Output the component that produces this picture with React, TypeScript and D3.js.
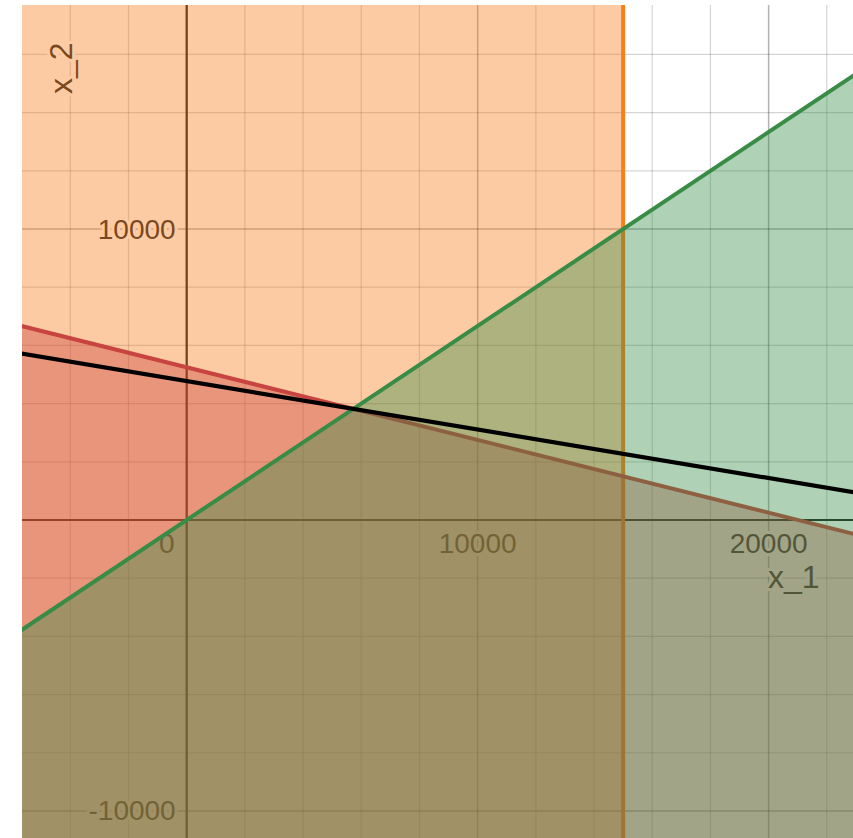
import React from "react";
import * as d3 from "d3";

// Plot window in data units (x_1 horizontal, x_2 vertical)
const xDomain: [number, number] = [-5660, 22900];
const yDomain: [number, number] = [-10930, 17700];

// Gridline steps
const minorStep = 2000;
const majorStep = 10000;

// Tick labels
const xTickValues = [10000, 20000];
const yTickValues = [10000, -10000];
const xTickLabels = ["10000", "20000"];
const yTickLabels = ["10000", "-10000"];

// Constraints: a·x_1 + b·x_2 <= c  (b = 0 -> vertical boundary)
const constraintNames = ["capacity", "budget", "ratio"];
const constraintA = [1, 1, -2];
const constraintB = [0, 4, 3];
const constraintC = [15000, 21000, 0];
const constraintColors = ["#fa7e19", "#c74440", "#388c46"];

// Objective level line through the optimum: x_1 + 6·x_2 = k
const objectiveA = 1;
const objectiveB = 6;
const objectiveK = 28640;

const W = 853;
const H = 838;
const plot = { left: 22, top: 5, right: 853, bottom: 838 };

export default function App() {
  const x = d3.scaleLinear().domain(xDomain).range([plot.left, plot.right]);
  const y = d3.scaleLinear().domain(yDomain).range([plot.bottom, plot.top]);

  const minorX = d3.range(Math.ceil(xDomain[0] / minorStep) * minorStep, xDomain[1], minorStep);
  const minorY = d3.range(Math.ceil(yDomain[0] / minorStep) * minorStep, yDomain[1], minorStep);

  const x0 = x(0);
  const y0 = y(0);

  const lineGen = d3
    .line<[number, number]>()
    .x((d) => x(d[0]))
    .y((d) => y(d[1]));
  const areaGen = d3
    .area<[number, number]>()
    .x((d) => x(d[0]))
    .y0(() => y(yDomain[0]))
    .y1((d) => y(d[1]));

  const pad = 2000;
  const xs: number[] = [xDomain[0] - pad, xDomain[1] + pad];

  const labelStyle: React.CSSProperties = {
    fontFamily: "'Liberation Sans', Arial, sans-serif",
    fontSize: 28,
    fill: "#262626",
    stroke: "#ffffff",
    strokeWidth: 6,
    strokeLinejoin: "round",
    paintOrder: "stroke",
  };

  const constraintLayers = constraintNames.map((name, i) => {
    const a = constraintA[i];
    const b = constraintB[i];
    const c = constraintC[i];
    const color = constraintColors[i];
    if (b === 0) {
      const xv = c / a;
      return (
        <g key={name}>
          <rect
            x={x(xDomain[0] - pad)}
            y={y(yDomain[1] + pad)}
            width={x(xv) - x(xDomain[0] - pad)}
            height={y(yDomain[0] - pad) - y(yDomain[1] + pad)}
            fill={color}
            fillOpacity={0.4}
          />
          <line
            x1={x(xv)}
            x2={x(xv)}
            y1={y(yDomain[1] + pad)}
            y2={y(yDomain[0] - pad)}
            stroke={color}
            strokeWidth={4}
          />
        </g>
      );
    }
    const pts: [number, number][] = xs.map((xv) => [xv, (c - a * xv) / b]);
    return (
      <g key={name}>
        <path d={areaGen(pts) ?? ""} fill={color} fillOpacity={0.4} />
        <path d={lineGen(pts) ?? ""} fill="none" stroke={color} strokeWidth={4} />
      </g>
    );
  });

  const objPts: [number, number][] = xs.map((xv) => [xv, (objectiveK - objectiveA * xv) / objectiveB]);

  return (
    <svg
      width={W}
      height={H}
      style={{ position: "absolute", left: 0, top: 0, background: "#ffffff" }}
    >
      <defs>
        <clipPath id="plot-clip">
          <rect x={plot.left} y={plot.top} width={plot.right - plot.left} height={plot.bottom - plot.top} />
        </clipPath>
      </defs>
      <g clipPath="url(#plot-clip)">
        <rect x={plot.left} y={plot.top} width={plot.right - plot.left} height={plot.bottom - plot.top} fill="#ffffff" />
        {/* grid */}
        {minorX.map((v) => (
          <line
            key={"gx" + v}
            x1={x(v)}
            x2={x(v)}
            y1={plot.top}
            y2={plot.bottom}
            stroke="#000"
            strokeOpacity={v % majorStep === 0 ? 0.3 : 0.17}
            strokeWidth={v % majorStep === 0 ? 1.5 : 1.2}
          />
        ))}
        {minorY.map((v) => (
          <line
            key={"gy" + v}
            y1={y(v)}
            y2={y(v)}
            x1={plot.left}
            x2={plot.right}
            stroke="#000"
            strokeOpacity={v % majorStep === 0 ? 0.3 : 0.17}
            strokeWidth={v % majorStep === 0 ? 1.5 : 1.2}
          />
        ))}
        {/* axes */}
        <line x1={x0} x2={x0} y1={plot.top} y2={plot.bottom} stroke="#1c1c1c" strokeWidth={2.2} />
        <line y1={y0} y2={y0} x1={plot.left} x2={plot.right} stroke="#1c1c1c" strokeWidth={2.2} />
        {/* tick labels */}
        <text x={x0 - 12} y={y0 + 33} textAnchor="end" style={labelStyle}>
          0
        </text>
        {xTickValues.map((v, i) => (
          <text key={"xt" + v} x={x(v)} y={y0 + 33} textAnchor="middle" style={labelStyle}>
            {xTickLabels[i]}
          </text>
        ))}
        {yTickValues.map((v, i) => (
          <text
            key={"yt" + v}
            x={x0 - 11}
            y={y(v)}
            textAnchor="end"
            dominantBaseline="central"
            style={labelStyle}
          >
            {yTickLabels[i]}
          </text>
        ))}
        {/* axis titles */}
        <text x={768} y={588} textAnchor="start" style={{ ...labelStyle, fontSize: 32 }}>
          x_1
        </text>
        <text
          transform="translate(72,94) rotate(-90)"
          textAnchor="start"
          style={{ ...labelStyle, fontSize: 32 }}
        >
          x_2
        </text>
        {/* feasible-region constraints */}
        {constraintLayers}
        {/* objective line */}
        <path d={lineGen(objPts) ?? ""} fill="none" stroke="#000000" strokeWidth={4.2} />
      </g>
    </svg>
  );
}
